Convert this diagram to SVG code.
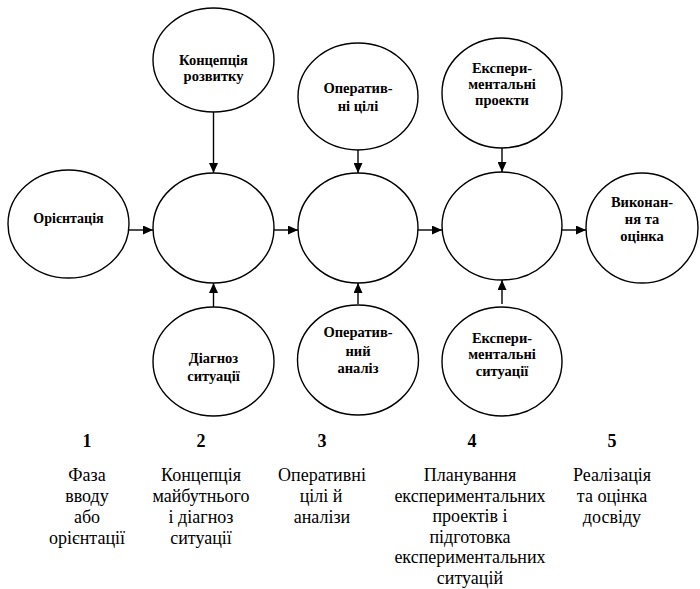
<svg xmlns="http://www.w3.org/2000/svg" width="700" height="589" viewBox="0 0 700 589">
<defs>
<marker id="ah" viewBox="0 0 10 10" refX="10" refY="5" markerWidth="10" markerHeight="9" markerUnits="userSpaceOnUse" orient="auto" preserveAspectRatio="none">
<path d="M0,0 L10,5 L0,10 Z" fill="#000"/>
</marker>
<style>
.n{fill:#fff;stroke:#000;stroke-width:1.4}
text{font-family:'Liberation Serif','DejaVu Serif',serif;text-anchor:middle;fill:#000}
.t{font-weight:bold;font-size:14.5px}
.c line{stroke:#000;stroke-width:1.4;marker-end:url(#ah)}
.num{font-weight:bold;font-size:18px}
.lb{font-size:18px}
</style>
</defs>
<rect width="700" height="589" fill="#fff"/>
<g class="c" id="connectors">
<line x1="129" y1="230" x2="153" y2="230"/>
<line x1="274" y1="230" x2="298" y2="230"/>
<line x1="418" y1="230" x2="442" y2="230"/>
<line x1="562" y1="230" x2="586" y2="230"/>
<line x1="213.5" y1="112" x2="213.5" y2="173"/>
<line x1="358" y1="146" x2="358" y2="173"/>
<line x1="502" y1="148" x2="502" y2="172"/>
<line x1="213.5" y1="307" x2="213.5" y2="283"/>
<line x1="358" y1="304" x2="358" y2="283"/>
<line x1="502" y1="304" x2="502" y2="280"/>
</g>
<g id="orientation"><ellipse class="n" cx="68.5" cy="224" rx="60.5" ry="54"/><text class="t" x="68.5" y="223" style="font-size:14px">Орієнтація</text></g>
<g id="phase2"><ellipse class="n" cx="213.5" cy="228" rx="60.5" ry="55"/></g>
<g id="phase3"><ellipse class="n" cx="358" cy="228" rx="60" ry="55"/></g>
<g id="phase4"><ellipse class="n" cx="502" cy="226" rx="60" ry="54"/></g>
<g id="execution"><ellipse class="n" cx="642" cy="228" rx="56" ry="55"/><text class="t" x="642" y="207">Виконан-</text><text class="t" x="642" y="224">ня та</text><text class="t" x="642" y="241">оцінка</text></g>
<g id="concept"><ellipse class="n" cx="213.5" cy="60" rx="60.5" ry="52"/><text class="t" x="213.5" y="65">Концепція</text><text class="t" x="213.5" y="80.5">розвитку</text></g>
<g id="opgoals"><ellipse class="n" cx="358" cy="96.5" rx="60" ry="53.5"/><text class="t" x="358" y="93">Оператив-</text><text class="t" x="358" y="111">ні цілі</text></g>
<g id="expprojects"><ellipse class="n" cx="502" cy="93" rx="60" ry="55"/><text class="t" x="502" y="73">Експери-</text><text class="t" x="502" y="89">ментальні</text><text class="t" x="502" y="105">проекти</text></g>
<g id="diagnosis"><ellipse class="n" cx="213.5" cy="361.5" rx="60.5" ry="54.5"/><text class="t" x="213.5" y="363">Діагноз</text><text class="t" x="213.5" y="381">ситуації</text></g>
<g id="opanalysis"><ellipse class="n" cx="358" cy="360" rx="60.5" ry="55"/><text class="t" x="358" y="337">Оператив-</text><text class="t" x="358" y="356">ний</text><text class="t" x="358" y="373">аналіз</text></g>
<g id="expsituations"><ellipse class="n" cx="502" cy="361.5" rx="60" ry="54.5"/><text class="t" x="502" y="343">Експери-</text><text class="t" x="502" y="359">ментальні</text><text class="t" x="502" y="376">ситуації</text></g>
<g id="col1"><text class="num" x="87" y="447">1</text><text class="lb" x="87" y="481">Фаза</text><text class="lb" x="87" y="502">вводу</text><text class="lb" x="87" y="523">або</text><text class="lb" x="87" y="544">орієнтації</text></g>
<g id="col2"><text class="num" x="201" y="447">2</text><text class="lb" x="201" y="481">Концепція</text><text class="lb" x="201" y="502">майбутнього</text><text class="lb" x="201" y="523">і діагноз</text><text class="lb" x="201" y="544">ситуації</text></g>
<g id="col3"><text class="num" x="322" y="447">3</text><text class="lb" x="322" y="481">Оперативні</text><text class="lb" x="321" y="502">цілі й</text><text class="lb" x="322" y="523">аналізи</text></g>
<g id="col4"><text class="num" x="472" y="447">4</text><text class="lb" x="470" y="481">Планування</text><text class="lb" x="470" y="501.5">експериментальних</text><text class="lb" x="470" y="522">проектів і</text><text class="lb" x="470" y="542.5">підготовка</text><text class="lb" x="470" y="563">експериментальних</text><text class="lb" x="470" y="583.5">ситуацій</text></g>
<g id="col5"><text class="num" x="612" y="447">5</text><text class="lb" x="612" y="481">Реалізація</text><text class="lb" x="612" y="502">та оцінка</text><text class="lb" x="612" y="523">досвіду</text></g>
</svg>
